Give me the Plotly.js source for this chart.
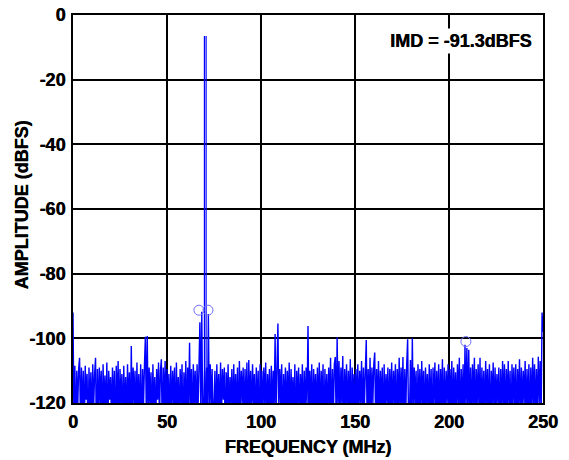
<!DOCTYPE html>
<html>
<head>
<meta charset="utf-8">
<script src="https://cdn.plot.ly/plotly-3.0.1.min.js"></script>
<style>html,body{margin:0;padding:0;background:#fff;}#chart{width:569px;height:460px;}</style>
</head>
<body>
<div id="chart"></div>
<script>
// FFT bin spacing (MHz) and amplitude per bin (dBFS), bins 0..250 MHz (noise floor and spurs)
const freqStep = 0.5;
const amplitude = [
  -92, -126, -108.5, -131, -110, -122, -109.5, -106, -127, -109,
  -124, -110, -129, -108.5, -119, -111, -133, -109, -123, -110.5,
  -128, -108, -121, -111, -106, -135, -109.5, -125, -109, -120,
  -110, -129, -108, -122, -111.5, -127, -107.5, -131, -110, -119,
  -112, -126, -109, -123, -110, -134, -108.5, -121, -107, -128,
  -109.5, -120, -111, -130, -108.5, -124, -112, -127, -108, -122,
  -110.5, -131, -102.4, -125, -109, -120, -110, -129, -107.5, -123,
  -111, -127, -108, -133, -109.5, -121, -108.5, -99.5, -124, -99.3,
  -126, -109, -120, -110.5, -130, -108, -123, -112, -128, -109.5,
  -119, -107.5, -125, -110, -106.5, -132, -109, -122, -107, -127,
  -109.5, -121, -111, -129, -108.5, -124, -110, -120, -109, -131,
  -107.5, -123, -112, -127, -109.5, -120, -108, -134, -110.5, -122,
  -107, -128, -109, -121, -101.4, -125, -109.5, -130, -108, -120,
  -110, -126, -108, -122, -109, -95, -124, -91.8, -125, -123,
  -110, -127, -109, -126, -92.5, -123, -108, -121, -109.5, -129,
  -120, -110, -131, -108, -122, -111, -127, -107.5, -124, -109.5,
  -119, -109, -133, -110.5, -121, -108, -126, -112, -120, -109.5,
  -128, -108, -123, -111, -125, -109, -130, -107, -122, -110,
  -120, -109, -127, -109.5, -124, -107.5, -131, -106.7, -121, -110,
  -126, -108, -120, -111, -129, -109, -123, -110, -134, -108,
  -122, -110, -125, -109, -120, -107.5, -128, -111, -121, -109.5,
  -130, -108.5, -124, -110, -122, -98.7, -127, -109, -95.4, -123,
  -109.5, -120, -108, -131, -111, -123, -109, -126, -110, -121,
  -107.5, -128, -109.5, -122, -112, -125, -108, -133, -110, -120,
  -109, -127, -111, -121, -108, -129, -110, -124, -109, -120,
  -96.2, -126, -110, -122, -108, -130, -109.5, -121, -111, -125,
  -109, -123, -107.5, -128, -110, -120, -108, -134, -109.5, -122,
  -111, -126, -109, -121, -106, -129, -109.5, -124, -108, -105.8,
  -127, -99.7, -122, -107, -125, -109, -120, -105.5, -130, -109.5,
  -121, -108, -126, -110, -123, -106.5, -131, -109, -120, -111,
  -128, -109.5, -122, -108, -125, -110, -120, -107, -127, -109,
  -121, -110, -100.5, -130, -109.5, -123, -106, -125, -109, -120,
  -108, -104.4, -128, -109.5, -122, -107, -126, -110, -121, -109,
  -131, -108, -124, -111, -120, -109, -127, -109.5, -123, -107.5,
  -125, -110, -120, -108, -129, -109.5, -122, -106, -126, -109,
  -121, -105.8, -128, -109.5, -124, -108, -100.3, -127, -123, -106.7,
  -126, -100, -124, -109, -120, -110, -130, -108, -122, -109.5,
  -125, -107, -121, -110, -128, -109, -120, -111, -126, -108,
  -123, -109.5, -131, -109, -120, -107.5, -125, -110, -122, -108,
  -127, -109.5, -121, -106.5, -129, -109, -124, -110, -120, -108,
  -126, -109.5, -122, -107, -128, -109, -121, -110.5, -125, -108,
  -120, -106, -130, -109.5, -123, -108, -127, -102, -122, -103,
  -125, -103.5, -124, -109, -126, -108, -121, -106, -128, -109.5,
  -120, -108, -124, -106, -129, -109, -122, -110, -127, -107,
  -121, -109.5, -125, -108, -130, -110, -120, -107.5, -126, -109,
  -123, -111, -120, -109, -128, -109.5, -124, -107, -122, -108,
  -127, -109.5, -121, -107, -125, -110, -131, -108, -120, -109,
  -124, -108, -128, -109.5, -121, -106.5, -126, -109, -123, -110,
  -120, -107, -127, -109.5, -122, -108, -129, -109, -124, -106,
  -121, -108, -126, -109.5, -123, -105.7, -120, -107, -125, -92,
  -98
];
// Two-tone carriers
const toneFreq = [69.9, 70.8];
const toneAmp = [-6.5, -6.5];
// IMD product markers
const imdFreq = [67, 71.8, 209];
const imdAmp = [-91.3, -91.3, -101];
const xTicks = [0, 50, 100, 150, 200, 250];
const yTicks = [0, -20, -40, -60, -80, -100, -120];
const annText = 'IMD = -91.3dBFS';
const xTitle = 'FREQUENCY (MHz)';
const yTitle = 'AMPLITUDE (dBFS)';

const freq = amplitude.map((_, i) => i * freqStep);
const floorDb = -130;
const toneX = [], toneY = [];
toneFreq.forEach((f, i) => { toneX.push(f, f, null); toneY.push(floorDb, toneAmp[i], null); });

const fontFam = 'Liberation Sans, Arial, sans-serif';
const boldFont = {family: fontFam, size: 18, color: '#000', weight: 700, shadow: '0.5px 0px 0px #000'};
const traces = [
  {
    x: freq, y: amplitude, type: 'scatter', mode: 'lines',
    line: {color: '#0000ff', width: 1.4, simplify: false},
    hoverinfo: 'skip', showlegend: false
  },
  {
    x: toneX, y: toneY, type: 'scatter', mode: 'lines',
    line: {color: '#0000ff', width: 1.2},
    hoverinfo: 'skip', showlegend: false
  },
  {
    x: imdFreq, y: imdAmp, type: 'scatter', mode: 'markers',
    marker: {symbol: 'circle-open', size: 10, color: '#7070ff', line: {width: 1, color: '#7070ff'}},
    showlegend: false
  }
];
const axisCommon = {
  showline: true, mirror: true, linecolor: '#000', linewidth: 2,
  showgrid: true, gridcolor: '#000', gridwidth: 2,
  zeroline: false, ticks: '',
  tickfont: boldFont
};
const layout = {
  width: 569, height: 460,
  margin: {l: 73, r: 26, t: 15, b: 57},
  paper_bgcolor: '#fff', plot_bgcolor: '#fff',
  showlegend: false,
  xaxis: Object.assign({}, axisCommon, {
    range: [0, 250], tickvals: xTicks, ticktext: xTicks.map(t => '<b>' + t + '</b>'),
    ticklabelstandoff: 1,
    title: {text: '<b>' + xTitle + '</b>', font: boldFont, standoff: 10}
  }),
  yaxis: Object.assign({}, axisCommon, {
    range: [-120, 0], tickvals: yTicks, ticktext: yTicks.map(t => '<b>' + t + '</b>'),
    ticklabelstandoff: 2
  }),
  annotations: [
    {
      xref: 'paper', yref: 'paper', x: 0.984, y: 0.933,
      xanchor: 'right', yanchor: 'middle', showarrow: false,
      text: annText, bgcolor: '#fff', borderpad: 2,
      font: boldFont
    },
    {
      xref: 'paper', yref: 'paper', x: -0.1085, y: 0.509,
      xanchor: 'center', yanchor: 'middle', showarrow: false, textangle: -90,
      text: '<b>' + yTitle + '</b>', font: boldFont
    }
  ]
};
Plotly.newPlot('chart', traces, layout, {displayModeBar: false, staticPlot: true});
</script>
</body>
</html>
